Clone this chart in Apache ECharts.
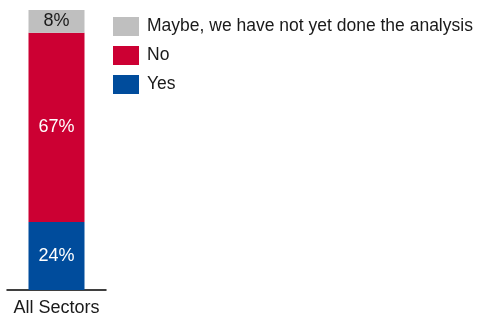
<!DOCTYPE html>
<html>
<head>
<meta charset="utf-8">
<script src="https://cdn.jsdelivr.net/npm/echarts@6/dist/echarts.min.js"></script>
<style>
  html, body { margin: 0; padding: 0; background: #fff; }
  #chart { width: 477px; height: 320px; }
</style>
</head>
<body>
<div id="chart"></div>
<script>
// Survey answer shares, stacked in one column
const categories = ['All Sectors'];
const yesValues = [24];
const noValues = [67];
const maybeValues = [8];
const seriesNames = ['Yes', 'No', 'Maybe, we have not yet done the analysis'];
const legendOrder = ['Maybe, we have not yet done the analysis', 'No', 'Yes'];

const colors = { yes: '#004C9C', no: '#CC0033', maybe: '#BFBFBF' };
const font = 'Liberation Sans, Arial, sans-serif';

function seg(name, data, color, labelColor) {
  return {
    name: name,
    type: 'bar',
    stack: 'total',
    barWidth: 56,
    data: data,
    itemStyle: { color: color },
    label: {
      show: true,
      position: 'inside',
      formatter: p => p.value + '%',
      color: labelColor,
      fontFamily: font,
      fontSize: 18
    }
  };
}

const chart = echarts.init(document.getElementById('chart'));
chart.setOption({
  animation: false,
  grid: { left: 7, top: 10, width: 99, bottom: 30 },
  legend: {
    data: legendOrder,
    orient: 'vertical',
    left: 113,
    top: 17,
    padding: 0,
    itemWidth: 26,
    itemHeight: 19,
    itemGap: 10,
    icon: 'rect',
    textStyle: { fontFamily: font, fontSize: 17.5, color: '#1a1a1a', padding: [0, 0, 0, 3] }
  },
  xAxis: {
    type: 'category',
    data: categories,
    axisLine: { lineStyle: { color: '#000', width: 1.5 } },
    axisTick: { show: false },
    axisLabel: { fontFamily: font, fontSize: 18, color: '#1a1a1a', margin: 9 }
  },
  yAxis: {
    type: 'value',
    min: 0,
    max: 99,
    show: false
  },
  series: [
    seg(seriesNames[0], yesValues, colors.yes, '#fff'),
    seg(seriesNames[1], noValues, colors.no, '#fff'),
    seg(seriesNames[2], maybeValues, colors.maybe, '#1a1a1a')
  ]
});
</script>
</body>
</html>
